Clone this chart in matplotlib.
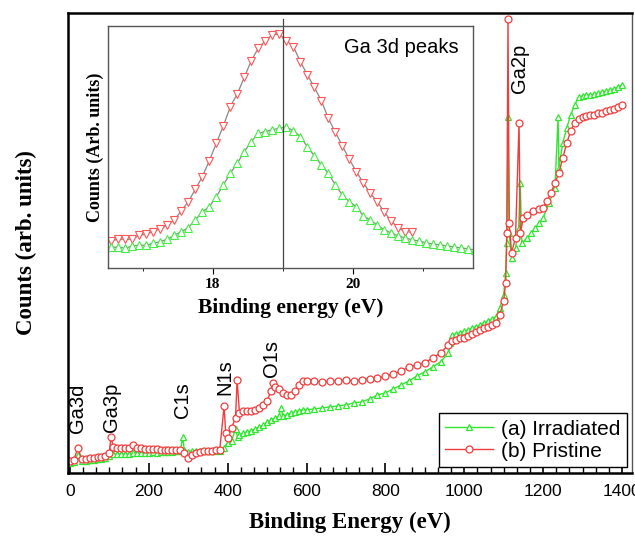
import numpy as np
import matplotlib
matplotlib.use("Agg")
import matplotlib.pyplot as plt
from matplotlib.ticker import MultipleLocator, AutoMinorLocator

# survey spectrum, irradiated sample (green)
irr_ev = [0, 10, 20, 30, 40, 50, 60, 70, 80, 90, 100, 106, 110, 120, 130, 140, 150, 160,
          170, 180, 190, 200, 210, 220, 230, 240, 250, 260, 270, 280, 286, 290, 300, 310,
          320, 330, 340, 350, 360, 370, 380, 390, 400, 410, 420, 425, 430, 440, 450, 460,
          470, 480, 490, 500, 510, 520, 530, 535, 540, 550, 560, 570, 580, 590, 600, 620,
          640, 660, 680, 700, 720, 740, 760, 780, 800, 820, 840, 860, 880, 900, 920, 940,
          960, 965, 970, 980, 990, 1000, 1010, 1020, 1030, 1040, 1050, 1060, 1070, 1080,
          1090, 1100, 1105, 1108, 1111, 1114, 1120, 1130, 1138, 1142, 1146, 1160, 1170,
          1180, 1190, 1200, 1215, 1230, 1238, 1240, 1250, 1260, 1270, 1280, 1290, 1300,
          1310, 1320, 1330, 1340, 1350, 1360, 1370, 1380, 1390, 1400]
irr_cnt = [10, 11, 18, 12, 12, 13, 13, 14, 14, 15, 17, 25, 19, 19, 19, 19, 19, 20,
           20, 20, 20, 20, 21, 20, 21, 21, 21, 21, 22, 22, 36, 23, 21, 22,
           22, 22, 22, 22, 22, 22, 22, 25, 30, 32, 44, 36, 38, 40, 41, 42,
           44, 46, 48, 51, 53, 55, 57, 65, 57, 58, 60, 61, 62, 63, 63, 64,
           65, 66, 67, 68, 70, 71, 74, 78, 80, 84, 88, 92, 97, 101, 106, 111,
           120, 130, 138, 139, 140, 142, 143, 145, 146, 148, 150, 152, 154, 156,
           165, 178, 200, 230, 356, 240, 215, 225, 245, 290, 230, 235, 240,
           245, 250, 255, 270, 285, 356, 305, 330, 345, 358, 368, 376, 377,
           378, 378, 379, 380, 381, 382, 383, 384, 386, 388]

# survey spectrum, pristine sample (red)
pri_ev = [0, 10, 20, 30, 40, 50, 60, 70, 80, 90, 100, 104, 110, 120, 130, 140, 150, 160,
          170, 180, 190, 200, 210, 220, 230, 240, 250, 260, 270, 280, 290, 300, 310, 320,
          330, 340, 350, 360, 370, 380, 391, 395, 400, 410, 420, 424, 430, 440, 450, 460,
          470, 480, 490, 500, 510, 515, 520, 530, 540, 550, 560, 570, 580, 590, 600, 620,
          640, 660, 680, 700, 720, 740, 760, 780, 800, 820, 840, 860, 880, 900, 920, 940,
          960, 970, 980, 990, 1000, 1010, 1020, 1030, 1040, 1050, 1060, 1070, 1080, 1090,
          1100, 1105, 1108, 1111, 1114, 1120, 1130, 1139, 1142, 1150, 1160, 1175, 1190,
          1200, 1210, 1220, 1230, 1240, 1250, 1260, 1270, 1280, 1290, 1300, 1310, 1320,
          1330, 1340, 1350, 1360, 1370, 1380, 1390, 1400]
pri_cnt = [12, 13, 25, 14, 14, 15, 15, 16, 16, 17, 20, 36, 26, 25, 25, 25, 25, 28,
           25, 25, 24, 24, 24, 24, 23, 23, 23, 23, 23, 23, 20, 15, 18, 20,
           21, 22, 22, 22, 23, 23, 67, 40, 35, 45, 55, 93, 60, 62, 62, 62,
           63, 65, 68, 72, 82, 90, 86, 84, 80, 78, 78, 82, 88, 92, 92, 92,
           91, 92, 92, 93, 92, 93, 94, 95, 97, 99, 102, 106, 108, 110, 115, 120,
           128, 132, 133, 135, 135, 137, 139, 141, 143, 145, 146, 148, 150, 158,
           172, 190, 240, 454, 250, 220, 235, 350, 240, 255, 258, 262, 264,
           265, 272, 280, 290, 300, 315, 330, 342, 350, 354, 356, 357, 358,
           358, 360, 360, 362, 363, 364, 366, 368]

# Ga 3d core level detail (inset)
ga3d_pri_ev = [round(16.55 + 0.1 * i, 2) for i in range(44)]
ga3d_pri = [27.3, 28.7, 28.7, 28.7, 32.7, 33.7, 36.3, 39.3, 42.7, 48, 57.3, 66.3, 78.7,
            91.3, 107.3, 124.7, 142, 161.3, 174, 190.7, 207.3, 219.7, 227.3, 233, 233.7,
            227.3, 221.3, 206.3, 193, 180.7, 167.3, 149.7, 135.7, 122.3, 108.7, 96.3,
            85.3, 74.7, 66.3, 56, 47, 40, 36, 36]
ga3d_irr_ev = [round(16.55 + 0.1 * i, 2) for i in range(53)]
ga3d_irr = [20.7, 20.7, 19.7, 22, 22.7, 22.7, 24.7, 26.3, 28.7, 32.7, 36.3, 40.3, 48,
            56, 61.3, 71.3, 83, 94.7, 104.7, 116.3, 126.3, 134.7, 136.3, 138, 139.7,
            140.7, 137.3, 131.3, 121.3, 112, 103, 94.7, 83, 73, 66.3, 61.3, 52, 48, 43,
            38, 35, 32, 30, 28, 27, 25, 24, 23, 22, 21, 20, 19, 18]

peak_labels = ["Ga3d", "Ga3p", "C1s", "N1s", "O1s", "Ga2p"]
peak_pos = [20, 106, 286, 392, 510, 1140]
peak_base = [40, 41, 55, 78, 96, 380]

GREEN = "#2ee82e"
RED = "#f23c3c"
SANS = "Liberation Sans"
SERIF = "Liberation Serif"

fig = plt.figure(figsize=(6.35, 5.38), dpi=100)
ax = fig.add_axes([0.107, 0.121, 0.888, 0.855])

ax.plot(irr_ev, irr_cnt, color=GREEN, lw=1.0, marker="^", ms=5, mfc="white",
        mec=GREEN, mew=0.9, label="(a) Irradiated")
ax.plot(pri_ev, pri_cnt, color=RED, lw=1.0, marker="o", ms=5, mfc="white",
        mec=RED, mew=0.9, label="(b) Pristine")

for lab, xp, yb in zip(peak_labels, peak_pos, peak_base):
    ax.text(xp, yb, lab, rotation=90, ha="center", va="bottom", fontsize=14.5,
            family=SANS)

ax.set_xlim(-5, 1425)
ax.set_ylim(0, 460)
ax.xaxis.set_major_locator(MultipleLocator(200))
ax.xaxis.set_minor_locator(AutoMinorLocator(6))
ax.tick_params(axis="x", which="major", direction="in", length=7, width=1.2,
               labelsize=12.5, pad=8)
ax.tick_params(axis="x", which="minor", direction="in", length=4, width=1)
ax.set_yticks([])
for lbl in ax.get_xticklabels():
    lbl.set_family(SANS)
for side in ["left", "top", "bottom"]:
    ax.spines[side].set_linewidth(1.8)
ax.spines["right"].set_linewidth(1.0)
ax.spines["right"].set_color("#555555")

ax.set_xlabel("Binding Energy (eV)", family=SERIF, fontweight="bold",
              fontsize=16.5, labelpad=9)
ax.set_ylabel("Counts (arb. units)", family=SERIF, fontweight="bold",
              fontsize=16.5, labelpad=22)

leg = ax.legend(loc="lower right", bbox_to_anchor=(0.991, 0.013),
                borderaxespad=0, fancybox=False, edgecolor="black",
                prop={"family": SANS, "size": 15}, handlelength=2.3,
                handletextpad=0.4, labelspacing=0.15, borderpad=0.3,
                framealpha=1)
leg.get_frame().set_linewidth(1.0)

# inset
axi = fig.add_axes([0.170, 0.502, 0.575, 0.450])
axi.plot(ga3d_pri_ev, ga3d_pri, color="#888888", lw=0.9, marker="v", ms=5.5,
         mfc="white", mec="#ff5555", mew=0.8)
axi.plot(ga3d_irr_ev, ga3d_irr, color="#888888", lw=0.9, marker="^", ms=5.5,
         mfc="white", mec="#44ee44", mew=0.8)
axi.plot([19.0, 19.0], [0, 249], color="#444444", lw=0.9, clip_on=False)
axi.set_xlim(16.5, 21.72)
axi.set_ylim(0, 242)
axi.set_yticks([])
axi.xaxis.set_major_locator(MultipleLocator(2))
axi.xaxis.set_minor_locator(MultipleLocator(1))
axi.tick_params(axis="x", which="major", direction="out", length=4, labelsize=11)
axi.tick_params(axis="x", which="minor", direction="out", length=2.5)
for lbl in axi.get_xticklabels():
    lbl.set_family(SERIF)
    lbl.set_fontweight("bold")
for s in axi.spines.values():
    s.set_color("#555555")
    s.set_linewidth(1.0)
axi.set_xlabel("Binding energy (eV)", family=SERIF, fontweight="bold",
               fontsize=15.5, labelpad=5)
axi.set_ylabel("Counts (Arb. units)", family=SERIF, fontweight="bold",
               fontsize=13, labelpad=3)
axi.text(0.96, 0.95, "Ga 3d peaks", transform=axi.transAxes, ha="right",
         va="top", fontsize=14.5, family=SANS)

fig.savefig("out.png", dpi=100)
